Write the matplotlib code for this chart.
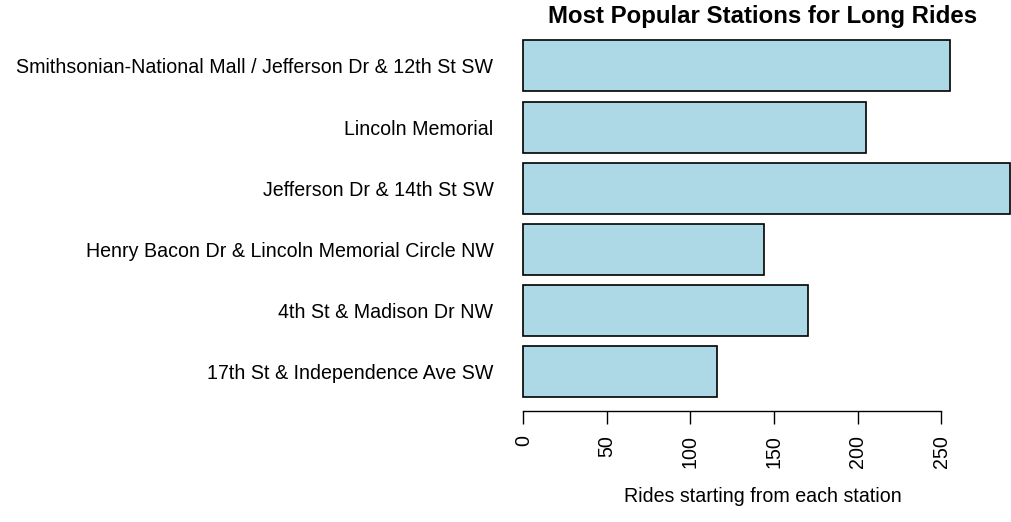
import matplotlib
matplotlib.use("Agg")
import matplotlib.pyplot as plt

stations = [
    "17th St & Independence Ave SW",
    "4th St & Madison Dr NW",
    "Henry Bacon Dr & Lincoln Memorial Circle NW",
    "Jefferson Dr & 14th St SW",
    "Lincoln Memorial",
    "Smithsonian-National Mall / Jefferson Dr & 12th St SW",
]
rides = [116, 170, 144, 291, 205, 255]
xticks = [0, 50, 100, 150, 200, 250]

plt.rcParams['font.family'] = ['Liberation Sans', 'DejaVu Sans']

W, H = 1012, 522
fig = plt.figure(figsize=(W / 100, H / 100), dpi=100)

# layout in pixels
x0_px = 523.3          # data 0
px_per_unit = 1.672
right_px = 1011
bottom_px = 411.3      # axis line
top_px = 25.0
y0_px = 407.5          # y data 0
py_per_unit = 51.0

ax = fig.add_axes([x0_px / W, 1 - bottom_px / H, (right_px - x0_px) / W, (bottom_px - top_px) / H])
ax.set_xlim(0, (right_px - x0_px) / px_per_unit)
ax.set_ylim(-(bottom_px - y0_px) / py_per_unit, (y0_px - top_px) / py_per_unit)

ypos = [0.7 + 1.2 * i for i in range(len(stations))]
ax.barh(ypos, rides, height=1.0, color='#ADD8E6', edgecolor='black', linewidth=1.2, clip_on=False)

for s in ['top', 'right', 'left']:
    ax.spines[s].set_visible(False)
ax.spines['bottom'].set_bounds(0, 250)
ax.spines['bottom'].set_linewidth(1.0)

ax.set_xticks(xticks)
ax.set_xticklabels([str(t) for t in xticks], rotation=90, fontsize=14.1)
ax.tick_params(axis='x', length=9, width=1.0, pad=8)

ax.set_yticks(ypos)
ax.set_yticklabels(stations, fontsize=14.1)
ax.tick_params(axis='y', length=0, pad=21.5)

center_x = 762.5 / W
fig.text(center_x, 1 - 496.7 / H, "Rides starting from each station", ha='center', va='center', fontsize=14.1)
fig.text(center_x, 1 - 16 / H, "Most Popular Stations for Long Rides", ha='center', va='center',
         fontsize=17.3, fontweight='bold')

fig.savefig("out.png", dpi=100)
